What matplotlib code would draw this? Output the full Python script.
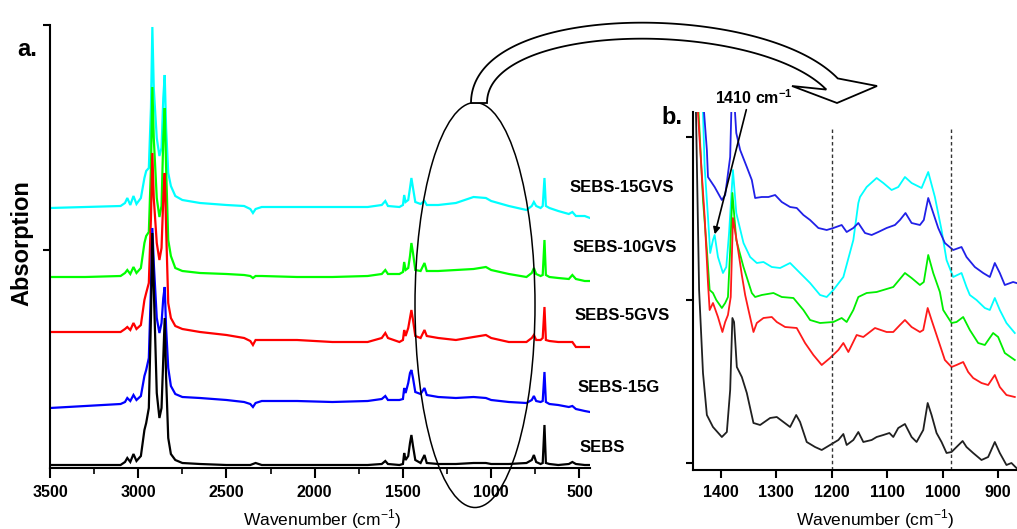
import matplotlib
matplotlib.use("Agg")
import matplotlib.pyplot as plt
import numpy as np
from matplotlib.patches import Ellipse, Polygon, FancyArrowPatch
from matplotlib.ticker import MultipleLocator

plt.rcParams['font.family'] = ['Liberation Sans', 'DejaVu Sans']
plt.rcParams['mathtext.fontset'] = 'custom'
plt.rcParams['mathtext.rm'] = 'Liberation Sans'
plt.rcParams['mathtext.bf'] = 'Liberation Sans:bold'

# ---------------- Panel a data (wavenumber grid shared by all spectra) ----------------
wn_a = [3500, 3300, 3100, 3075, 3062, 3045, 3027, 3010, 2985, 2965, 2955, 2940, 2928, 2920,
        2912, 2895, 2880, 2868, 2858, 2850, 2842, 2830, 2815, 2790, 2750, 2650, 2500, 2400,
        2365, 2350, 2335, 2300, 2100, 1900, 1700, 1620, 1600, 1585, 1520, 1500, 1493, 1485,
        1470, 1460, 1452, 1443, 1430, 1400, 1378, 1365, 1300, 1200, 1100, 1030, 1000, 900,
        800, 770, 758, 745, 720, 708, 698, 690, 670, 620, 560, 540, 520, 470, 440]

a_15gvs = [260, 261, 262, 265, 270, 263, 272, 264, 270, 290, 297, 300, 360, 441,
           380, 330, 312, 320, 370, 393, 340, 295, 282, 272, 268, 265, 263, 262,
           259, 255, 259, 261, 261, 261, 261, 263, 267, 262, 261, 263, 273, 266,
           268, 280, 290, 280, 266, 264, 267, 263, 263, 265, 271, 270, 267, 262,
           258, 262, 266, 262, 260, 262, 290, 262, 260, 257, 254, 256, 252, 252, 250]
a_10gvs = [191, 191, 192, 195, 198, 194, 201, 195, 200, 225, 232, 236, 300, 381,
           330, 270, 251, 262, 330, 360, 300, 228, 212, 200, 197, 195, 194, 193,
           192, 190, 192, 192, 191, 191, 192, 194, 198, 194, 194, 196, 206, 198,
           200, 212, 225, 215, 198, 197, 205, 197, 197, 198, 199, 201, 198, 194,
           191, 195, 200, 194, 192, 193, 228, 193, 191, 190, 189, 193, 189, 187, 187]
a_5gvs = [136, 136, 136, 139, 141, 138, 145, 139, 143, 168, 175, 185, 250, 315,
          270, 225, 208, 220, 270, 295, 240, 165, 150, 142, 139, 136, 133, 130,
          127, 123, 128, 128, 128, 126, 126, 130, 135, 130, 126, 128, 138, 132,
          140, 150, 158, 148, 132, 130, 138, 132, 130, 128, 131, 133, 130, 126,
          126, 130, 133, 128, 128, 130, 161, 128, 127, 126, 126, 126, 121, 121, 121]
a_15g = [60, 62, 64, 66, 70, 67, 73, 68, 72, 92, 98, 110, 180, 240,
         205, 150, 135, 145, 170, 181, 140, 100, 82, 74, 71, 70, 68, 66,
         64, 61, 65, 67, 67, 66, 67, 69, 72, 68, 68, 69, 80, 75,
         85, 95, 98, 90, 76, 74, 80, 73, 71, 70, 71, 70, 68, 66,
         65, 68, 72, 67, 66, 67, 96, 66, 64, 63, 61, 62, 59, 57, 56]
a_sebs = [3, 3, 3, 6, 10, 6, 14, 7, 12, 38, 45, 60, 150, 235,
          180, 75, 50, 60, 110, 150, 90, 30, 14, 8, 5, 4, 3, 3,
          3, 4, 5, 3, 3, 3, 3, 4, 7, 4, 3, 4, 15, 8,
          12, 25, 33, 22, 8, 5, 13, 5, 4, 4, 5, 5, 4, 4,
          5, 8, 13, 6, 4, 5, 43, 5, 4, 3, 4, 6, 4, 3, 3]

series_names = ['SEBS-15GVS', 'SEBS-10GVS', 'SEBS-5GVS', 'SEBS-15G', 'SEBS']
series_colors = ['#00FFFF', '#00FF00', '#FF0000', '#0000FF', '#000000']
xticks_a = [3500, 3000, 2500, 2000, 1500, 1000, 500]

# ---------------- Panel b data (zoomed region) ----------------
wn_b_15gvs = [1446, 1432, 1429, 1423, 1419, 1414, 1411, 1405, 1396, 1390, 1385, 1378, 1372,
              1359, 1347, 1335, 1323, 1308, 1293, 1275, 1257, 1239, 1221, 1209, 1197, 1179,
              1161, 1152, 1149, 1137, 1119, 1107, 1092, 1080, 1068, 1056, 1038, 1026, 1014,
              1002, 993, 981, 966, 957, 951, 939, 924, 915, 906, 897, 885, 870]
b_15gvs = [420, 357, 303, 253, 217, 230, 235, 213, 197, 203, 237, 300, 257,
           227, 213, 207, 208, 203, 202, 207, 197, 187, 175, 173, 180, 193,
           230, 267, 273, 283, 292, 287, 280, 283, 293, 287, 282, 298, 273,
           240, 210, 193, 197, 183, 175, 170, 162, 160, 172, 160, 147, 137]

wn_b_10gvs = [1446, 1438, 1432, 1425, 1420, 1414, 1408, 1398, 1392, 1387, 1383, 1379, 1372,
              1359, 1344, 1338, 1326, 1305, 1290, 1269, 1251, 1239, 1221, 1197, 1182, 1173,
              1161, 1152, 1137, 1119, 1107, 1089, 1068, 1056, 1041, 1034, 1026, 1017, 1005,
              999, 984, 975, 963, 951, 936, 924, 909, 900, 888, 870]
b_10gvs = [420, 337, 270, 220, 180, 177, 170, 162, 167, 173, 220, 277, 230,
           203, 177, 173, 175, 177, 173, 172, 160, 150, 147, 148, 152, 148,
           160, 173, 177, 178, 180, 183, 197, 192, 185, 188, 215, 197, 178,
           160, 147, 148, 153, 140, 127, 125, 137, 133, 117, 110]

wn_b_5gvs = [1446, 1441, 1435, 1429, 1423, 1420, 1414, 1405, 1397, 1392, 1387, 1382, 1378,
             1370, 1362, 1356, 1350, 1341, 1335, 1323, 1308, 1299, 1284, 1263, 1248, 1233,
             1218, 1203, 1188, 1179, 1170, 1155, 1143, 1122, 1101, 1089, 1077, 1068, 1056,
             1041, 1035, 1027, 1020, 1008, 996, 984, 975, 963, 954, 945, 930, 918, 906,
             897, 885, 870]
b_5gvs = [420, 357, 303, 253, 187, 160, 167, 153, 138, 148, 155, 173, 252,
          225, 195, 175, 160, 138, 147, 152, 153, 148, 143, 142, 127, 115,
          105, 112, 120, 127, 118, 135, 133, 142, 138, 138, 145, 150, 143,
          138, 140, 162, 150, 130, 110, 103, 105, 108, 98, 92, 87, 85, 95,
          83, 75, 73]

wn_b_15g = [1446, 1430, 1425, 1423, 1411, 1398, 1392, 1383, 1379, 1372, 1365, 1353, 1344,
            1338, 1326, 1314, 1302, 1290, 1275, 1263, 1251, 1239, 1224, 1209, 1197, 1182,
            1173, 1161, 1152, 1140, 1128, 1116, 1101, 1086, 1077, 1067, 1056, 1041, 1034,
            1026, 1017, 1008, 996, 981, 966, 957, 942, 927, 915, 906, 897, 888, 873, 867]
b_15g = [450, 357, 320, 293, 283, 270, 275, 313, 400, 337, 320, 303, 290,
         272, 273, 273, 275, 268, 263, 262, 255, 250, 242, 240, 242, 245,
         238, 242, 247, 237, 235, 238, 242, 245, 250, 257, 247, 245, 250,
         272, 257, 242, 227, 220, 223, 213, 203, 197, 193, 207, 197, 185, 188, 187]

wn_b_sebs = [1446, 1439, 1432, 1425, 1414, 1398, 1389, 1383, 1379, 1376, 1371, 1362, 1353,
             1341, 1329, 1311, 1299, 1287, 1275, 1264, 1257, 1245, 1230, 1218, 1203, 1188,
             1179, 1173, 1161, 1152, 1143, 1128, 1119, 1107, 1096, 1089, 1080, 1068, 1056,
             1047, 1035, 1027, 1020, 1011, 1002, 993, 984, 975, 964, 957, 945, 930, 918,
             906, 897, 885, 876, 867]
b_sebs = [400, 180, 97, 55, 43, 33, 38, 80, 152, 148, 103, 93, 77,
          47, 45, 52, 53, 48, 43, 55, 48, 28, 23, 20, 25, 30,
          36, 25, 30, 38, 28, 30, 33, 35, 37, 33, 42, 46, 33,
          28, 40, 67, 55, 37, 28, 17, 18, 23, 29, 23, 17, 10, 13,
          28, 17, 5, 7, 2]

xticks_b = [1400, 1300, 1200, 1100, 1000, 900]
marker_lines_b = [1200, 985]
peak_note = '1410 cm$^{\\mathbf{-1}}$'
peak_note_xy = (1412, 233)

# ---------------- Figure ----------------
W, H = 1017, 529
fig = plt.figure(figsize=(W / 100, H / 100), dpi=100)


def fx(px):
    return px / W


def fy(py):
    return 1 - py / H


def style_axes(ax):
    for s in ('top', 'right'):
        ax.spines[s].set_visible(False)
    for s in ('left', 'bottom'):
        ax.spines[s].set_linewidth(1.5)
    ax.tick_params(axis='x', which='major', direction='out', length=7, width=1.5,
                   labelsize=11.5, pad=5)
    ax.tick_params(axis='x', which='minor', direction='out', length=4, width=1.2)
    ax.tick_params(axis='y', which='major', direction='out', length=5, width=1.5,
                   labelleft=False)
    for lab in ax.get_xticklabels():
        lab.set_fontweight('bold')


# Panel a
axA = fig.add_axes([fx(50), fy(468), fx(590) - fx(50), fy(25) - fy(468)])
a_values = [a_15gvs, a_10gvs, a_5gvs, a_15g, a_sebs]
for vals, col in zip(a_values, series_colors):
    axA.plot(wn_a, vals, color=col, lw=1.6, solid_joinstyle='miter')
axA.set_xlim(3500, 440)
axA.set_ylim(0, 443)
axA.set_xticks(xticks_a)
axA.xaxis.set_minor_locator(MultipleLocator(250))
axA.set_yticks([218, 443])
style_axes(axA)

# Panel b
axB = fig.add_axes([fx(693), fy(470), fx(1017) - fx(693), fy(112) - fy(470)])
b_wns = [wn_b_15gvs, wn_b_10gvs, wn_b_5gvs, wn_b_15g, wn_b_sebs]
b_values = [b_15gvs, b_10gvs, b_5gvs, b_15g, b_sebs]
b_colors = ['#00FFFF', '#00EE00', '#FF1A1A', '#2020E8', '#202020']
for w, vals, col in zip(b_wns, b_values, b_colors):
    axB.plot(w, vals, color=col, lw=1.3)
axB.vlines(marker_lines_b, 0, 343, colors='#333333', linestyles=(0, (2.5, 2)), lw=1.0)
axB.set_xlim(1450, 866)
axB.set_ylim(0, 358)
axB.set_xticks(xticks_b)
axB.set_yticks([7, 170, 333])
style_axes(axB)
axB.tick_params(axis='x', which='major', length=6)

# Series labels
label_pos = [(570, 187), (573, 248), (575, 315), (578, 388), (580, 448)]
for name, (px, py) in zip(series_names, label_pos):
    fig.text(fx(px), fy(py), name, fontsize=12, fontweight='bold', ha='left', va='center')

# Panel letters and axis titles
fig.text(fx(17), fy(50), 'a.', fontsize=17, fontweight='bold', ha='left', va='center')
fig.text(fx(661), fy(117), 'b.', fontsize=17, fontweight='bold', ha='left', va='center')
fig.text(fx(22), fy(243), 'Absorption', fontsize=17, fontweight='bold', rotation=90,
         ha='center', va='center')
fig.text(fx(322), fy(519), 'Wavenumber (cm$^{-1}$)', fontsize=12.5, ha='center', va='center')
fig.text(fx(875), fy(519), 'Wavenumber (cm$^{-1}$)', fontsize=12.5, ha='center', va='center')

# 1410 annotation
fig.text(fx(754), fy(98), peak_note, fontsize=11.5, fontweight='bold', ha='center', va='center')
tip = fig.transFigure.inverted().transform(axB.transData.transform(peak_note_xy))
arr = FancyArrowPatch((fx(747), fy(107)), tuple(tip), transform=fig.transFigure,
                      arrowstyle='-|>', mutation_scale=10, lw=1.2, color='black')
fig.add_artist(arr)

# Ellipse around the 1450-870 region
ell = Ellipse((fx(475), fy(305)), 120 / W, 405 / H, transform=fig.transFigure,
              fill=False, ec='black', lw=1.1)
fig.add_artist(ell)

# Curved hollow arrow from ellipse to panel b
P0 = np.array([479.0, 103.0])
P1 = np.array([479.0, 10.0])
P2 = np.array([760.0, 10.0])
P3 = np.array([832.0, 84.0])
t = np.linspace(0, 1, 120)[:, None]
curve = (1 - t) ** 3 * P0 + 3 * (1 - t) ** 2 * t * P1 + 3 * (1 - t) * t ** 2 * P2 + t ** 3 * P3
deriv = 3 * (1 - t) ** 2 * (P1 - P0) + 6 * (1 - t) * t * (P2 - P1) + 3 * t ** 2 * (P3 - P2)
nrm = np.column_stack([deriv[:, 1], -deriv[:, 0]])
nrm = nrm / np.linalg.norm(nrm, axis=1)[:, None]
half = 8.0
outer = curve - nrm * half
inner = curve + nrm * half
# make sure 'outer' is the left/top side
if outer[0, 0] > inner[0, 0]:
    outer, inner = inner, outer
head = np.array([[877.0, 86.0], [837.0, 103.0], [792.0, 86.0]])
poly_px = np.vstack([outer, head, inner[::-1]])
poly = np.column_stack([poly_px[:, 0] / W, 1 - poly_px[:, 1] / H])
fig.add_artist(Polygon(poly, closed=True, transform=fig.transFigure, fc='white',
                       ec='black', lw=1.3, joinstyle='miter'))

fig.savefig('out.png', dpi=100)
